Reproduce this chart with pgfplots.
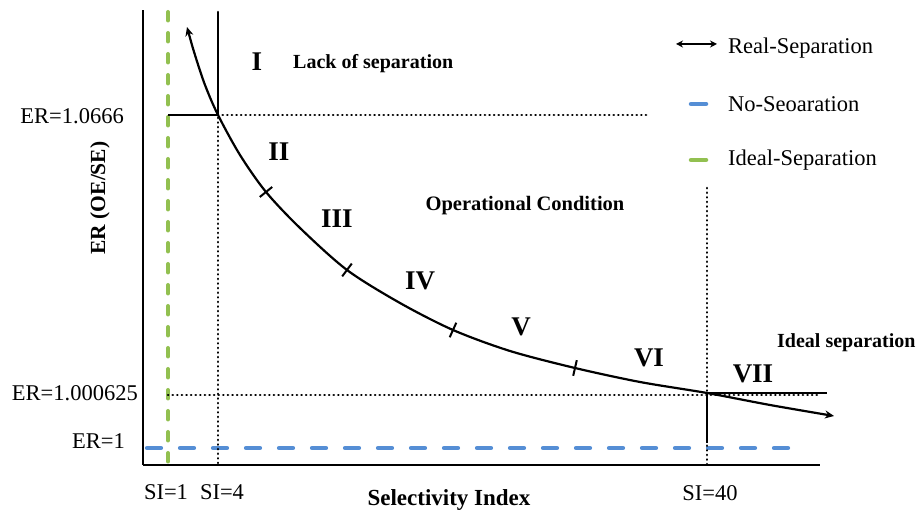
\documentclass[border=0pt]{standalone}
\usepackage{pgfplots}
\pgfplotsset{compat=1.18}
\usepackage{fontspec}
\setmainfont{Liberation Serif}
\usetikzlibrary{arrows.meta}
\definecolor{idealgreen}{RGB}{146,192,80}
\definecolor{noblue}{RGB}{85,142,213}
\newcommand{\fs}[1]{\fontsize{#1}{#1}\selectfont}
\begin{document}
\begin{tikzpicture}
\begin{axis}[
  x=1pt, y=1pt,
  xmin=143, xmax=820, ymin=53, ymax=508,
  axis lines=left,
  axis line style={-, line width=2.2pt, black},
  xtick=\empty, ytick=\empty,
  clip=false,
  dotted/.style={line width=2.5pt, line cap=round, dash pattern=on 0.3pt off 4.3pt},
]
\coordinate (ll) at (axis cs:0,0);
\coordinate (ur) at (axis cs:917,518);
% ideal separation (green dashed)
\addplot[idealgreen, line width=4pt, line cap=round, dash pattern=on 8.5pt off 12.5pt] coordinates {(168,506) (168,53)};
% no separation (blue dashed)
\addplot[noblue, line width=4.2pt, line cap=round, dash pattern=on 14pt off 19pt] coordinates {(147,70) (805,70)};
% dotted guide lines
\addplot[black, dotted] coordinates {(218,506) (218,53)};
\addplot[black, dotted] coordinates {(218,403) (650,403)};
\addplot[black, dotted] coordinates {(168,123) (818,123)};
\addplot[black, dotted] coordinates {(707,330) (707,53)};
% solid guide lines
\addplot[black, line width=2.2pt] coordinates {(218,506) (218,403)};
\addplot[black, line width=2.2pt] coordinates {(168,403) (218,403)};
\addplot[black, line width=2.2pt] coordinates {(707,125) (827,125)};
\addplot[black, line width=2.2pt] coordinates {(707,125) (707,75)};
% real separation curve
\addplot[black, line width=2.2pt, smooth, {Stealth[length=9pt,width=8pt]}-{Stealth[length=9pt,width=8pt]}] coordinates {
(187,491) (195,463) (205,433) (218,403) (240,363) (266,326) (300,290)
(347,248) (400,215) (453,188) (510,167) (575,150) (640,136) (707,125)
(770,113) (834,102)};
% tick marks on the curve
\addplot[black, line width=2pt] coordinates {(259.8,321) (272.2,331)};
\addplot[black, line width=2pt] coordinates {(342.2,241.6) (351.8,254.4)};
\addplot[black, line width=2pt] coordinates {(449.7,180.7) (456.3,195.3)};
\addplot[black, line width=2pt] coordinates {(573.2,142.2) (576.8,157.8)};
% legend samples
\addplot[black, line width=2.4pt, {Stealth[length=7pt,width=7pt]}-{Stealth[length=7pt,width=7pt]}] coordinates {(676,474) (717,474)};
\addplot[noblue, line width=4.5pt, line cap=round] coordinates {(691,414) (706,414)};
\addplot[idealgreen, line width=4.5pt, line cap=round] coordinates {(691,358) (706,358)};
% legend text
\node[anchor=west, inner sep=0pt, font=\fs{22.5}] at (axis cs:728,470) {Real-Separation};
\node[anchor=west, inner sep=0pt, font=\fs{22.5}] at (axis cs:728,414) {No-Seoaration};
\node[anchor=west, inner sep=0pt, font=\fs{22.5}] at (axis cs:728,358) {Ideal-Separation};
% region numerals
\node[font=\bfseries\fs{27}] at (axis cs:257,456) {I};
\node[font=\bfseries\fs{27}] at (axis cs:279,366) {II};
\node[font=\bfseries\fs{27}] at (axis cs:337,299) {III};
\node[font=\bfseries\fs{27}] at (axis cs:420,237) {IV};
\node[font=\bfseries\fs{27}] at (axis cs:521,191) {V};
\node[font=\bfseries\fs{27}] at (axis cs:649,160) {VI};
\node[font=\bfseries\fs{27}] at (axis cs:753,144) {VII};
% annotations
\node[anchor=west, inner sep=0pt, font=\bfseries\fs{20}] at (axis cs:293,454) {Lack of separation};
\node[inner sep=0pt, font=\bfseries\fs{20.5}] at (axis cs:525,312) {Operational Condition};
\node[anchor=west, inner sep=0pt, font=\bfseries\fs{20}] at (axis cs:777,175) {Ideal separation};
% axis labels
\node[inner sep=0pt, font=\bfseries\fs{23}] at (axis cs:449,18) {Selectivity Index};
\node[inner sep=0pt, rotate=90, font=\bfseries\fs{21.5}] at (axis cs:100,320) {ER (OE/SE)};
% value labels
\node[anchor=east, inner sep=0pt, font=\fs{22.5}] at (axis cs:124,402) {ER=1.0666};
\node[anchor=east, inner sep=0pt, font=\fs{22.5}] at (axis cs:138,125) {ER=1.000625};
\node[anchor=east, inner sep=0pt, font=\fs{22.5}] at (axis cs:125,77) {ER=1};
\node[inner sep=0pt, font=\fs{22.5}] at (axis cs:166,26) {SI=1};
\node[inner sep=0pt, font=\fs{22.5}] at (axis cs:222,26) {SI=4};
\node[inner sep=0pt, font=\fs{22.5}] at (axis cs:710,25) {SI=40};
\end{axis}
\pgfresetboundingbox
\path[use as bounding box] (ll) rectangle (ur);
\end{tikzpicture}
\end{document}
